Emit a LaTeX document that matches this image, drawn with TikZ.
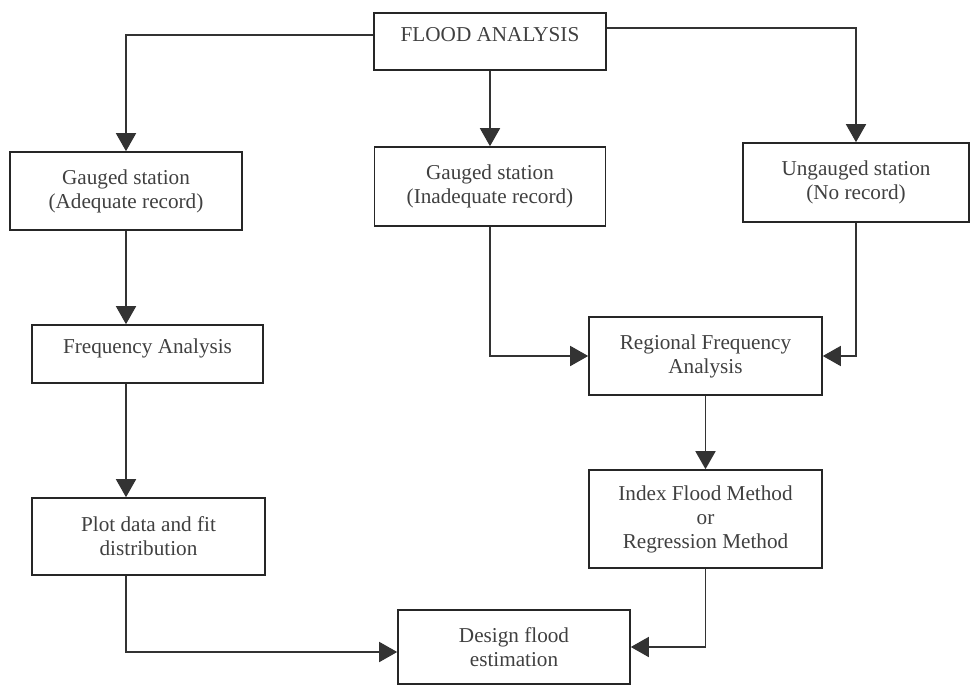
\documentclass[tikz,border=0pt]{standalone}
\usepackage{fontspec}
\setmainfont{Liberation Serif}
\usetikzlibrary{arrows.meta}

\begin{document}
\begin{tikzpicture}[x=0.5pt,y=-0.5pt,>={Triangle[width=10pt,length=9pt]},
  flow/.style={->,draw=black!80,line width=0.8pt},
  box node/.style={rectangle,draw=black!85,line width=0.8pt,align=center,inner sep=0pt,
    text=black!75,font=\fontsize{10.6}{12}\selectfont}]
  \useasboundingbox (0,0) rectangle (970,685);
  \node[box node,minimum width=116pt,minimum height=28.5pt,text depth=7pt] (flood) at (490,41.5) {FLOOD ANALYSIS};
  \node[box node,minimum width=116pt,minimum height=39pt] (gadq) at (126,191) {Gauged station\\(Adequate record)};
  \node[box node,minimum width=115.5pt,minimum height=39.5pt] (gind) at (490,186.5) {Gauged station\\(Inadequate record)};
  \node[box node,minimum width=113pt,minimum height=39.5pt] (ung) at (856,182.5) {Ungauged station\\(No record)};
  \node[box node,minimum width=115.5pt,minimum height=29pt,text depth=8pt] (freq) at (147.5,354) {Frequency Analysis};
  \node[box node,minimum width=116.5pt,minimum height=39pt] (reg) at (705.5,356) {Regional Frequency\\Analysis};
  \node[box node,minimum width=116.5pt,minimum height=38.5pt] (plot) at (148.5,536.5) {Plot data and fit\\distribution};
  \node[box node,minimum width=116.5pt,minimum height=49pt] (idx) at (705.5,519) {Index Flood Method\\or\\Regression Method};
  \node[box node,minimum width=116pt,minimum height=37pt] (design) at (514,647) {Design flood\\estimation};

  \draw[flow] ([yshift=3.25pt]flood.west) -| (gadq.north);
  \draw[flow] (flood.south) -- (gind.north);
  \draw[flow] ([yshift=6.75pt]flood.east) -| (ung.north);
  \draw[flow] (gadq.south) -- (gadq.south |- freq.north);
  \draw[flow] (gadq.south |- freq.south) -- (gadq.south |- plot.north);
  \draw[flow] (gadq.south |- plot.south) |- ([yshift=-2.5pt]design.west);
  \draw[flow] (gind.south) |- (reg.west);
  \draw[flow] (ung.south) |- (reg.east);
  \draw[flow] (reg.south) -- (idx.north);
  \draw[flow] (idx.south) |- (design.east);
\end{tikzpicture}
\end{document}
